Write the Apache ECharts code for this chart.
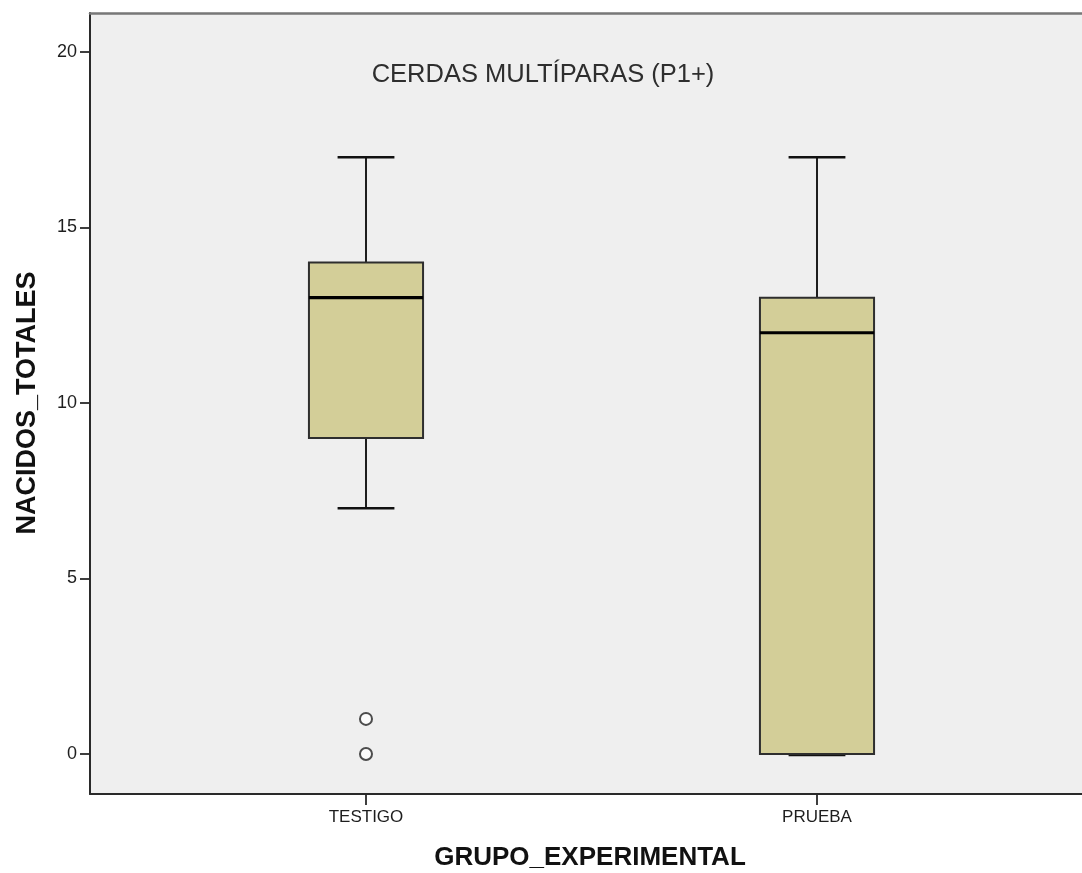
<!DOCTYPE html>
<html>
<head>
<meta charset="utf-8">
<script src="https://cdn.jsdelivr.net/npm/echarts@6/dist/echarts.min.js"></script>
<style>
html,body{margin:0;padding:0;background:#fff;}
#chart{width:1082px;height:873px;}
</style>
</head>
<body>
<div id="chart"></div>
<script>
// ---- data ----
const categories = ['TESTIGO', 'PRUEBA'];
const categoryPos = [1, 2];
const lowerWhisker = [7, 0];
const q1 = [9, 0];
const median = [13, 12];
const q3 = [14, 13];
const upperWhisker = [17, 17];
const outlierGroup = [0, 0];
const outlierValues = [1, 0];
const yTicks = [0, 5, 10, 15, 20];
const titleText = 'CERDAS MULTÍPARAS (P1+)';
const xName = 'GRUPO_EXPERIMENTAL';
const yName = 'NACIDOS_TOTALES';

// ---- build ----
const boxData = categories.map((c, i) => [categoryPos[i], lowerWhisker[i], q1[i], median[i], q3[i], upperWhisker[i]]);
const outlierData = outlierValues.map((v, i) => [categoryPos[outlierGroup[i]], v]);

const BOX_W = 0.253;
const CAP_W = 0.126;
const FONT = '"Liberation Sans", Arial, sans-serif';

function renderItem(params, api) {
  const x = api.value(0);
  const pLo = api.coord([x, api.value(1)]);
  const pQ1 = api.coord([x, api.value(2)]);
  const pMed = api.coord([x, api.value(3)]);
  const pQ3 = api.coord([x, api.value(4)]);
  const pHi = api.coord([x, api.value(5)]);
  const hb = api.size([BOX_W, 0])[0] / 2;
  const hc = api.size([CAP_W, 0])[0] / 2;
  const cx = pLo[0];
  const wStyle = { stroke: '#1e1e1e', lineWidth: 2 };
  const lowOff = pLo[1] === pQ1[1] ? 1 : 0;
  return {
    type: 'group',
    children: [
      { type: 'line', shape: { x1: cx, y1: pHi[1], x2: cx, y2: pQ3[1] }, style: wStyle },
      { type: 'line', shape: { x1: cx, y1: pQ1[1], x2: cx, y2: pLo[1] }, style: wStyle },
      { type: 'line', shape: { x1: cx - hc, y1: pHi[1], x2: cx + hc, y2: pHi[1] }, style: { stroke: '#111', lineWidth: 2.5 } },
      { type: 'line', shape: { x1: cx - hc, y1: pLo[1] + lowOff, x2: cx + hc, y2: pLo[1] + lowOff }, style: { stroke: '#111', lineWidth: 2.5 } },
      { type: 'rect', shape: { x: cx - hb, y: pQ3[1], width: hb * 2, height: pQ1[1] - pQ3[1] },
        style: { fill: '#d3ce98', stroke: '#2e2e2e', lineWidth: 2 } },
      { type: 'line', shape: { x1: cx - hb, y1: pMed[1], x2: cx + hb, y2: pMed[1] }, style: { stroke: '#000', lineWidth: 3.2 } }
    ]
  };
}

const chart = echarts.init(document.getElementById('chart'), null, { renderer: 'canvas' });
const xMin = 0.38803, xMax = 2.58759;
chart.setOption({
  animation: false,
  backgroundColor: '#ffffff',
  grid: { left: 90, right: 0, top: 13, bottom: 79, show: true, backgroundColor: '#efefef', borderWidth: 0 },
  xAxis: [{
    type: 'value', min: xMin, max: xMax, position: 'bottom',
    splitLine: { show: false },
    axisLine: { show: true, onZero: false, lineStyle: { color: '#2a2a2a', width: 2 } },
    axisTick: { show: true, length: 11, customValues: categoryPos, lineStyle: { color: '#2a2a2a', width: 1.8 } },
    axisLabel: { customValues: categoryPos, margin: 15, fontSize: 17, fontFamily: FONT, color: '#1e1e1e',
      formatter: v => { const i = categoryPos.indexOf(Math.round(v)); return i >= 0 ? categories[i] : ''; } }
  }, {
    type: 'value', min: xMin, max: xMax, position: 'top',
    splitLine: { show: false },
    axisLine: { show: true, onZero: false, lineStyle: { color: '#777', width: 2.5 } },
    axisTick: { show: false }, axisLabel: { show: false }
  }],
  yAxis: {
    type: 'value', min: -1.14, max: 21.11,
    splitLine: { show: false },
    axisLine: { show: true, onZero: false, lineStyle: { color: '#2a2a2a', width: 2 } },
    axisTick: { show: true, length: 10, customValues: yTicks, lineStyle: { color: '#2a2a2a', width: 1.8 } },
    axisLabel: { customValues: yTicks, margin: 13, fontSize: 18, fontFamily: FONT, color: '#1e1e1e' }
  },
  graphic: [
    { type: 'text', x: 543, y: 75, style: { text: titleText, font: '25.5px ' + FONT, fill: '#2e2e2e', textAlign: 'center', textVerticalAlign: 'middle' }, z: 100 },
    { type: 'text', x: 590, y: 858, style: { text: xName, font: 'bold 26px ' + FONT, fill: '#111', textAlign: 'center', textVerticalAlign: 'middle' } },
    { type: 'text', x: 28, y: 403, rotation: Math.PI / 2, style: { text: yName, font: 'bold 27px ' + FONT, fill: '#111', textAlign: 'center', textVerticalAlign: 'middle' } }
  ],
  series: [{
    type: 'custom', renderItem: renderItem, data: boxData,
    encode: { x: 0, y: [1, 2, 3, 4, 5] }, clip: false
  }, {
    type: 'scatter', data: outlierData, symbol: 'emptyCircle', symbolSize: 12,
    itemStyle: { color: '#222', borderColor: '#222', borderWidth: 2 }
  }]
});
</script>
</body>
</html>
